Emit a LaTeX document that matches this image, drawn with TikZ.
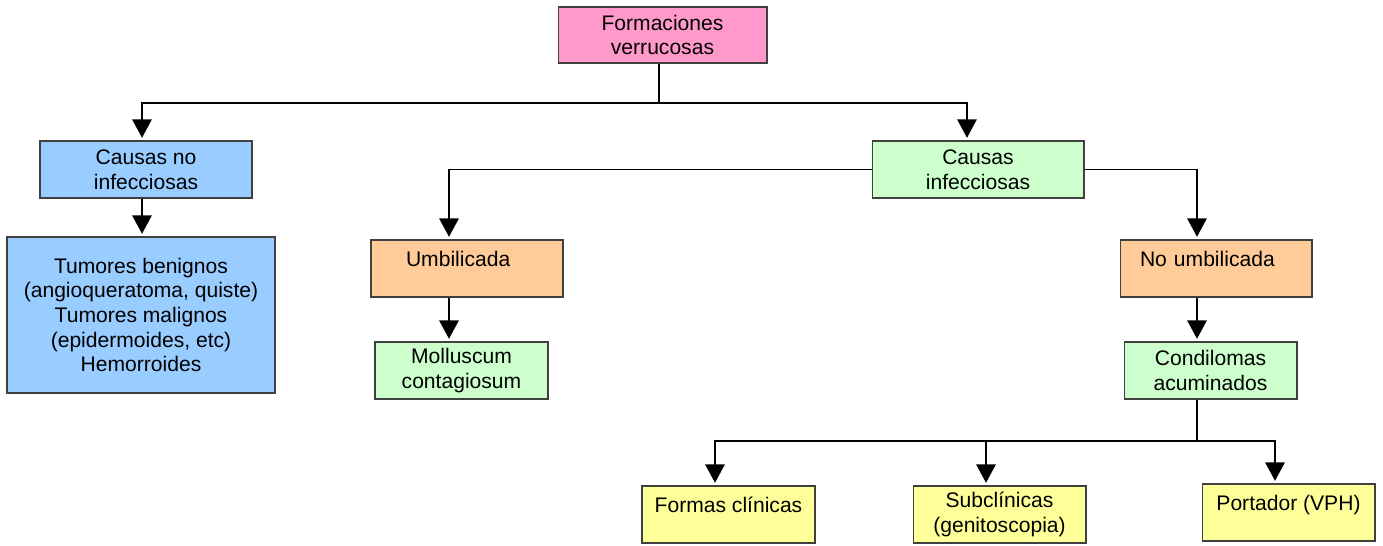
\documentclass[tikz,border=0pt]{standalone}
\usepackage{fontspec}
\setmainfont{Liberation Sans}
\usetikzlibrary{positioning,calc,arrows.meta}
\definecolor{cpink}{HTML}{FF99CC}
\definecolor{cblue}{HTML}{99CCFF}
\definecolor{cgreen}{HTML}{CCFFCC}
\definecolor{corange}{HTML}{FFCC99}
\definecolor{cyellow}{HTML}{FFFF99}
\tikzset{
  wire/.style  = {line width=1.1pt},
  arr/.style   = {line width=1.1pt, shorten >=1.5pt, -{Triangle[width=11pt,length=10.5pt]}},
  cbox/.style  = {draw=black!75, line width=0.6pt, align=center, inner sep=2pt,
                  font=\fontsize{12}{14}\selectfont},
  upper/.style = {text height=0.3cm, text depth=0.38cm},
}
\begin{document}
\begin{tikzpicture}[x=0.02cm,y=-0.02cm]
  \useasboundingbox (0,0) rectangle (1383,546);
  \node[cbox, fill=cpink, minimum width=4.18cm, minimum height=1.12cm] (top) at (662.5,35) {Formaciones\\verrucosas};
  \node[cbox, fill=cblue, minimum width=4.24cm, minimum height=1.14cm] (nonf) at (146,169.5) {Causas no\\infecciosas};
  \node[cbox, fill=cblue, minimum width=5.36cm, minimum height=3.12cm] (tum) at (141,315)
    {Tumores benignos\\(angioqueratoma, quiste)\\Tumores malignos\\(epidermoides, etc)\\Hemorroides};
  \node[cbox, fill=cgreen, minimum width=4.24cm, minimum height=1.14cm] (inf) at (978,169.5) {Causas\\infecciosas};
  \node[cbox, fill=corange, upper, text width=2.44cm, align=left, minimum width=3.84cm, minimum height=1.14cm] (umb) at (467,268.5) {Umbilicada};
  \node[cbox, fill=cgreen, minimum width=3.46cm, minimum height=1.14cm] (moll) at (461.5,370.5) {Molluscum\\contagiosum};
  \node[cbox, fill=corange, upper, text width=3.04cm, align=left, minimum width=3.84cm, minimum height=1.14cm] (noumb) at (1216,268.5) {No umbilicada};
  \node[cbox, fill=cgreen, minimum width=3.46cm, minimum height=1.14cm] (cond) at (1210.5,370.5) {Condilomas\\acuminados};
  \node[cbox, fill=cyellow, upper, minimum width=3.46cm, minimum height=1.14cm] (form) at (728.5,514.5) {Formas clínicas};
  \node[cbox, fill=cyellow, minimum width=3.46cm, minimum height=1.14cm] (subc) at (999.5,514.5) {Subclínicas\\(genitoscopia)};
  \node[cbox, fill=cyellow, upper, minimum width=3.46cm, minimum height=1.14cm] (port) at (1288.5,512.5) {Portador (VPH)};
  % junctions
  \coordinate (j1) at (659,103);
  \coordinate (j2) at (1197,441);
  \draw[wire] (top.south -| j1) -- (j1);
  \draw[arr] (j1) -| ($(nonf.north)+(-4,0)$);
  \draw[arr] (j1) -| ($(inf.north)+(-11,0)$);
  \draw[arr] ($(nonf.south)+(-4,0)$) -- ($(tum.north)+(1,0)$);
  \draw[arr] (inf.west) -| ($(umb.north)+(-18,0)$);
  \draw[arr] (inf.east) -| ($(noumb.north)+(-19,0)$);
  \draw[arr] ($(umb.south)+(-18,0)$) -- ($(moll.north)+(-12.5,0)$);
  \draw[arr] ($(noumb.south)+(-19,0)$) -- ($(cond.north)+(-13.5,0)$);
  \draw[wire] ($(cond.south)+(-13.5,0)$) -- (j2);
  \draw[arr] (j2) -| ($(form.north)+(-13.5,0)$);
  \draw[arr] (j2) -| ($(subc.north)+(-13.5,0)$);
  \draw[arr] (j2) -| ($(port.north)+(-13.5,0)$);
\end{tikzpicture}
\end{document}
